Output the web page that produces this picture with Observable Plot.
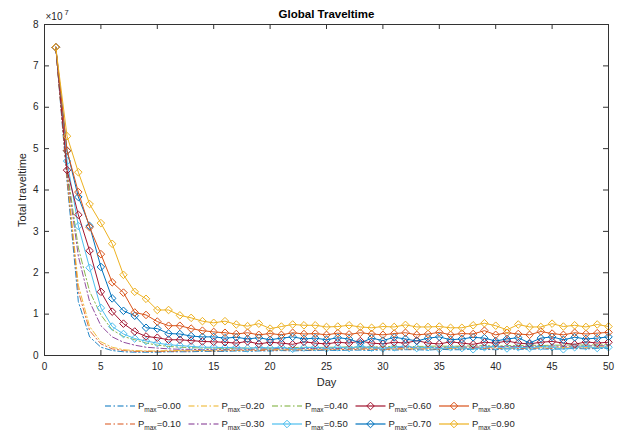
<!DOCTYPE html>
<html><head><meta charset="utf-8">
<script src="https://cdn.jsdelivr.net/npm/d3@7"></script>
<script src="https://cdn.jsdelivr.net/npm/@observablehq/plot@0.6"></script>
<style>
body{margin:0;background:#fff;}
#chart{width:636px;height:431px;font-family:"Liberation Sans",Arial,sans-serif;}
#chart svg{display:block;}
</style></head><body><div id="chart"></div>
<script>
// Days (x) and series labels
const days = [1,2,3,4,5,6,7,8,9,10,11,12,13,14,15,16,17,18,19,20,21,22,23,24,25,26,27,28,29,30,31,32,33,34,35,36,37,38,39,40,41,42,43,44,45,46,47,48,49,50];
const pmax = ["0.00","0.10","0.20","0.30","0.40","0.50","0.60","0.70","0.80","0.90"];
const dashedSeries = ["0.00","0.10","0.20","0.30","0.40"];
// Total traveltime, units of 1e7
const s000 = [7.45,4.2,1.3,0.45,0.2,0.12,0.09,0.08, 0.08,0.08,0.09,0.09,0.09,0.1,0.1,0.1,0.11,0.1, 0.11,0.11,0.12,0.11,0.12,0.12,0.13,0.12,0.13,0.13, 0.12,0.14,0.13,0.14,0.14,0.13,0.15,0.14,0.14,0.15, 0.15,0.14,0.16,0.15,0.15,0.16,0.15,0.16,0.17,0.16,0.17,0.17];
const s010 = [7.45,4.3,1.55,0.6,0.28,0.16,0.12,0.1, 0.1,0.1,0.1,0.11,0.11,0.12,0.11,0.12,0.12,0.13, 0.12,0.13,0.13,0.14,0.13,0.14,0.14,0.15,0.14,0.15, 0.15,0.14,0.16,0.15,0.16,0.16,0.15,0.17,0.16,0.17, 0.17,0.16,0.18,0.17,0.17,0.18,0.17,0.18,0.19,0.18,0.19,0.19];
const s020 = [7.45,4.35,1.7,0.7,0.33,0.2,0.14,0.12, 0.11,0.11,0.12,0.12,0.13,0.12,0.13,0.14,0.13,0.14, 0.14,0.15,0.14,0.15,0.16,0.15,0.16,0.16,0.17,0.16, 0.17,0.17,0.16,0.18,0.17,0.18,0.18,0.17,0.19,0.18, 0.19,0.19,0.18,0.2,0.19,0.2,0.2,0.19,0.21,0.2,0.21,0.21];
const s030 = [7.45,4.4,2.4,1.3,0.72,0.45,0.32,0.25, 0.2,0.18,0.16,0.15,0.15,0.14,0.15,0.15,0.16,0.15, 0.16,0.16,0.17,0.16,0.17,0.17,0.18,0.17,0.18,0.18, 0.19,0.18,0.19,0.19,0.2,0.19,0.2,0.2,0.21,0.2, 0.21,0.21,0.22,0.21,0.22,0.22,0.23,0.22,0.23,0.23,0.24,0.23];
const s040 = [7.45,4.5,2.6,1.55,0.98,0.62,0.46,0.38, 0.3,0.25,0.22,0.2,0.19,0.18,0.18,0.17,0.18,0.18, 0.19,0.18,0.19,0.19,0.2,0.19,0.2,0.2,0.21,0.2, 0.21,0.21,0.22,0.21,0.22,0.22,0.23,0.22,0.23,0.23, 0.24,0.23,0.24,0.24,0.25,0.24,0.25,0.25,0.26,0.25,0.26,0.26];
const s050 = [7.45,4.7,3.13,2.12,1.15,0.7,0.52,0.41, 0.35,0.3,0.26,0.24,0.22,0.2,0.2,0.19,0.2,0.17, 0.2,0.18,0.2,0.16,0.19,0.2,0.17,0.2,0.18,0.22, 0.19,0.17,0.2,0.23,0.18,0.2,0.16,0.2,0.18,0.15, 0.2,0.22,0.17,0.2,0.18,0.22,0.2,0.15,0.2,0.22,0.18,0.2];
const s060 = [7.45,4.48,3.4,2.53,1.54,1.06,0.77,0.58, 0.46,0.43,0.38,0.38,0.36,0.34,0.33,0.32,0.3,0.34, 0.28,0.32,0.3,0.27,0.33,0.3,0.28,0.32,0.3,0.35, 0.3,0.28,0.32,0.3,0.36,0.3,0.28,0.33,0.3,0.27, 0.32,0.3,0.35,0.3,0.28,0.32,0.34,0.3,0.27,0.33,0.3,0.32];
const s070 = [7.45,4.95,3.83,3.13,2.14,1.38,1.08,0.96, 0.67,0.65,0.53,0.52,0.47,0.45,0.45,0.42,0.44,0.4, 0.43,0.38,0.42,0.45,0.4,0.42,0.38,0.43,0.4,0.3, 0.42,0.36,0.44,0.4,0.35,0.42,0.45,0.38,0.4,0.44, 0.42,0.35,0.4,0.43,0.3,0.42,0.45,0.38,0.44,0.4,0.42,0.45];
const s080 = [7.45,4.95,3.95,3.1,2.45,1.77,1.52,1.04, 0.98,0.82,0.72,0.72,0.65,0.6,0.57,0.55,0.52,0.55, 0.5,0.53,0.5,0.55,0.52,0.53,0.5,0.54,0.51,0.55, 0.52,0.5,0.53,0.55,0.5,0.52,0.56,0.5,0.53,0.52, 0.6,0.5,0.55,0.52,0.5,0.58,0.53,0.5,0.55,0.52,0.54,0.56];
const s090 = [7.45,5.3,4.43,3.66,3.2,2.7,1.95,1.54, 1.37,1.1,1.1,0.97,0.91,0.83,0.79,0.83,0.75,0.71, 0.77,0.65,0.7,0.75,0.73,0.73,0.69,0.7,0.73,0.69, 0.67,0.7,0.69,0.74,0.69,0.69,0.7,0.67,0.67,0.73, 0.78,0.72,0.62,0.75,0.69,0.69,0.77,0.7,0.73,0.69,0.75,0.7];
const seriesValues = [s000,s010,s020,s030,s040,s050,s060,s070,s080,s090];
const palette = ["#0072BD","#D95319","#EDB120","#7E2F8E","#77AC30","#4DBEEE","#A2142F","#0072BD","#D95319","#EDB120"];
const xTicks = [0,5,10,15,20,25,30,35,40,45,50];
const yTicks = [0,1,2,3,4,5,6,7,8];

const rows = pmax.flatMap((p, i) => seriesValues[i].map((v, j) => ({series: p, day: days[j], value: v})));

const W = 636, H = 392, mL = 44, mR = 28, mT = 24, mB = 37;
const pw = W - mL - mR, ph = H - mT - mB;
const DASH = "6,2.5,1.5,2.5";
const axisColor = "#333333";

const marks = [];
pmax.forEach(p => {
  const d = rows.filter(r => r.series === p);
  if (dashedSeries.includes(p)) {
    marks.push(Plot.line(d, {x: "day", y: "value", stroke: "series", strokeWidth: 1, strokeOpacity: 0.85, strokeDasharray: DASH}));
  } else {
    marks.push(Plot.line(d, {x: "day", y: "value", stroke: "series", strokeWidth: 1}));
    marks.push(Plot.dot(d, {x: "day", y: "value", stroke: "series", symbol: "diamond2", r: 3.4, strokeWidth: 1, fill: "none"}));
  }
});

const chart = Plot.plot({
  width: W, height: H,
  marginLeft: mL, marginRight: mR, marginTop: mT, marginBottom: mB,
  x: {domain: [0, 50]},
  y: {domain: [0, 8]},
  color: {type: "ordinal", domain: pmax, range: palette},
  style: {fontFamily: "'Liberation Sans', Arial, sans-serif", fontSize: "10px", color: "#262626", background: "white", overflow: "visible"},
  marks: [
    ...marks,
    Plot.frame({stroke: axisColor, strokeWidth: 1}),
    Plot.tickX(xTicks, {x: d => d, stroke: axisColor, insetTop: ph - 5}),
    Plot.tickX(xTicks, {x: d => d, stroke: axisColor, insetBottom: ph - 5}),
    Plot.tickY(yTicks, {y: d => d, stroke: axisColor, insetRight: pw - 5}),
    Plot.tickY(yTicks, {y: d => d, stroke: axisColor, insetLeft: pw - 5}),
    Plot.axisX(xTicks, {tickSize: 0, tickPadding: 7, label: null, fill: "#262626"}),
    Plot.axisY(yTicks, {tickSize: 0, tickPadding: 6, label: null, fill: "#262626"}),
    Plot.text(["Global Traveltime"], {text: d => d, frameAnchor: "top", lineAnchor: "middle", dy: -10, fontWeight: "bold", fontSize: 11.5, fill: "#000"}),
    Plot.text(["Day"], {text: d => d, frameAnchor: "bottom", lineAnchor: "middle", dy: 27, fontSize: 11, fill: "#262626"}),
    Plot.text(["Total traveltime"], {text: d => d, frameAnchor: "left", textAnchor: "middle", lineAnchor: "middle", dx: -22, rotate: -90, fontSize: 11, fill: "#262626"}),
    Plot.text(["×10"], {text: d => d, frameAnchor: "top-left", textAnchor: "start", lineAnchor: "middle", dx: 1, dy: -7.5, fontSize: 10, fill: "#262626"}),
    Plot.text(["7"], {text: d => d, frameAnchor: "top-left", textAnchor: "start", lineAnchor: "middle", dx: 20, dy: -12, fontSize: 7.5, fill: "#262626"})
  ]
});
document.getElementById("chart").appendChild(chart);

// Legend
const lg = d3.select("#chart").append("svg").attr("width", W).attr("height", 431 - H)
  .style("font-family", "'Liberation Sans', Arial, sans-serif");
const colX = [105, 188.5, 272, 355.5, 439];
const rowY = [14, 32];
pmax.forEach((p, i) => {
  const cx = colX[Math.floor(i / 2)], cy = rowY[i % 2];
  const g = lg.append("g").attr("transform", `translate(${cx},${cy})`);
  const color = palette[i];
  const isDashed = dashedSeries.includes(p);
  g.append("line").attr("x1", 0).attr("x2", 30).attr("y1", 0).attr("y2", 0)
    .attr("stroke", color).attr("stroke-width", 1.2)
    .attr("stroke-dasharray", isDashed ? DASH : null);
  if (!isDashed) {
    g.append("path").attr("d", d3.symbol(d3.symbolDiamond2, Math.PI * 3.4 * 3.4)())
      .attr("transform", "translate(15,0)").attr("fill", "none").attr("stroke", color).attr("stroke-width", 1);
  }
  const t = g.append("text").attr("x", 33).attr("y", 0).attr("dy", "0.35em")
    .attr("font-size", 9.5).attr("fill", "#262626");
  t.append("tspan").text("P");
  t.append("tspan").attr("dy", 3).attr("font-size", 6.5).text("max");
  t.append("tspan").attr("dy", -3).text("=" + p);
});
</script></body></html>
